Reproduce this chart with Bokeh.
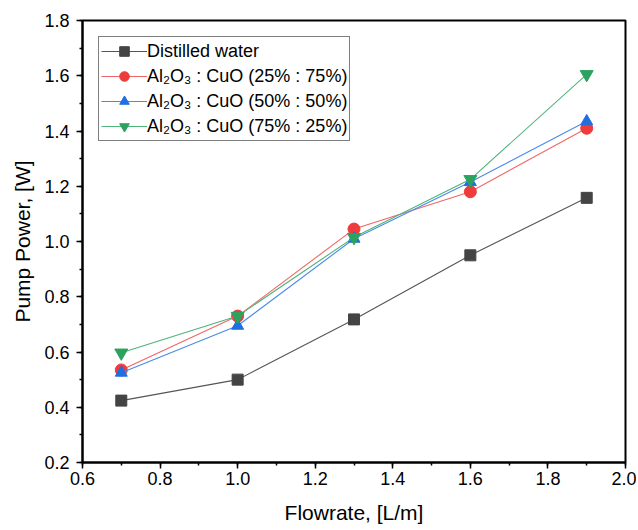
from bokeh.plotting import figure
from bokeh.models import SingleIntervalTicker, PrintfTickFormatter, Range1d, Legend, LegendItem
from bokeh.embed import file_html
from bokeh.resources import INLINE

flowrate = [0.7, 1.0, 1.3, 1.6, 1.9]
water = [0.424, 0.500, 0.718, 0.950, 1.158]
mix_25_75 = [0.535, 0.730, 1.045, 1.180, 1.410]
mix_50_50 = [0.525, 0.695, 1.010, 1.215, 1.435]
mix_75_25 = [0.597, 0.730, 1.015, 1.225, 1.605]
labels = ["Distilled water", "Al₂O₃ : CuO (25% : 75%)", "Al₂O₃ : CuO (50% : 50%)", "Al₂O₃ : CuO (75% : 25%)"]

FONT = "Liberation Sans"
p = figure(width=636, height=526, output_backend="svg", toolbar_location=None,
           x_range=Range1d(0.6, 2.0), y_range=Range1d(0.2, 1.8),
           min_border_left=82, min_border_right=11, min_border_top=20, min_border_bottom=64)
p.grid.visible = False
p.outline_line_color = "black"
p.outline_line_width = 2
p.outline_line_alpha = 1
p.background_fill_color = "white"
p.border_fill_color = "white"

for ax, lab in ((p.xaxis, "Flowrate, [L/m]"), (p.yaxis, "Pump Power, [W]")):
    ax.ticker = SingleIntervalTicker(interval=0.2, num_minor_ticks=2)
    ax.formatter = PrintfTickFormatter(format="%.1f")
    ax.axis_label = lab
    ax.axis_label_text_font = FONT
    ax.axis_label_text_font_style = "normal"
    ax.axis_label_text_font_size = "21px"
    ax.axis_label_text_color = "black"
    ax.major_label_text_font = FONT
    ax.major_label_text_font_size = "18px"
    ax.major_label_text_color = "black"
    ax.axis_line_width = 2
    ax.axis_line_color = "black"
    ax.major_tick_in = 0
    ax.major_tick_out = 6
    ax.minor_tick_in = 0
    ax.minor_tick_out = 3
    ax.major_tick_line_width = 1.5
    ax.minor_tick_line_width = 1.5
    ax.major_tick_line_color = "black"
    ax.minor_tick_line_color = "black"
p.xaxis.major_label_standoff = 3
p.yaxis.major_label_standoff = 7
p.xaxis.axis_label_standoff = 13
p.yaxis.axis_label_standoff = 7

series = [
    (water, "#555555", "#444444", "square", 11),
    (mix_25_75, "#f06666", "#ee3b3b", "circle", 12),
    (mix_50_50, "#4a8ae8", "#1f6fe0", "triangle", 12),
    (mix_75_25, "#4fb37a", "#2ca25f", "inverted_triangle", 13),
]
items = []
for (ys, lc, mc, mk, sz), lab in zip(series, labels):
    ln = p.line(flowrate, ys, line_color=lc, line_width=1.1)
    sc = p.scatter(flowrate, ys, marker=mk, size=sz, fill_color=mc, line_color=mc)
    items.append(LegendItem(label=lab, renderers=[ln, sc]))

legend = Legend(items=items, location="top_left")
legend.margin = 16
legend.padding = 2
legend.spacing = 1
legend.glyph_width = 46
legend.glyph_height = 24
legend.label_text_font = FONT
legend.label_text_font_size = "18px"
legend.label_text_color = "black"
legend.label_standoff = 0
legend.border_line_color = "black"
legend.border_line_width = 1
p.add_layout(legend)

open("out.html", "w").write(file_html(p, INLINE))
